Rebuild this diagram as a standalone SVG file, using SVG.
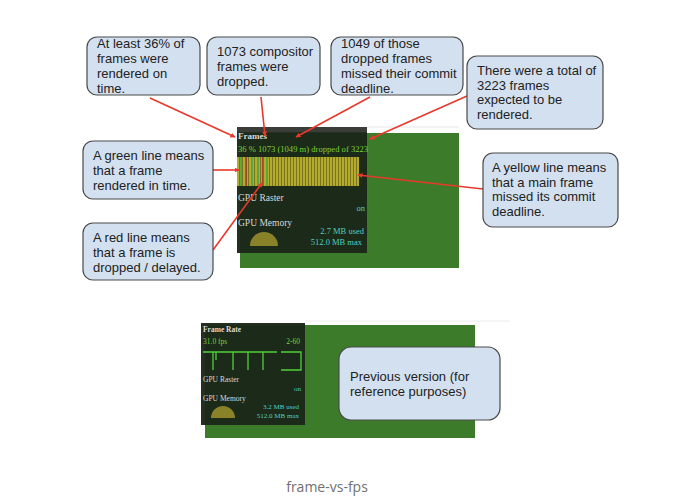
<svg xmlns="http://www.w3.org/2000/svg" width="695" height="502" viewBox="0 0 695 502">
<style>
.box{fill:#d3e0ef;stroke:#4a4a4a;stroke-width:1.2}
.bt{font-family:"Liberation Sans",Arial,sans-serif;font-size:13px;fill:#222}
.pt{font-family:"Liberation Serif","Times New Roman",serif;fill:#d8d8d8}
.gt{font-family:"Liberation Serif","Times New Roman",serif;fill:#7ecf3a}
.ct{font-family:"Liberation Serif","Times New Roman",serif;fill:#4fd1c0}
.arr{stroke:#e8392b;stroke-width:1.6;fill:none;marker-end:url(#ah)}
.gl{stroke:#4fcf3a;stroke-width:1.3;fill:none}
</style>
<defs>
<marker id="ah" viewBox="0 0 10 10" refX="9" refY="5" markerWidth="5" markerHeight="5" orient="auto" markerUnits="userSpaceOnUse" >
<path d="M0,0 L10,5 L0,10 z" fill="#e8392b"/>
</marker>
<pattern id="stripes" x="0" y="0" width="3" height="10" patternUnits="userSpaceOnUse">
<rect width="3" height="10" fill="#b3ab30"/>
<rect x="2" width="1" height="10" fill="#7a741f"/>
</pattern>
</defs>
<rect width="695" height="502" fill="#fff"/>

<g id="panel-new">
<line x1="367" y1="127" x2="459" y2="127" stroke="#e6e6e6"/>
<rect x="240" y="133" width="219" height="135" fill="#3b7b29"/>
<rect x="237" y="127" width="130" height="126" fill="#1b2619" opacity="0.96"/>
<rect x="237" y="127" width="130" height="5" fill="#3a3d38"/>
<text class="pt" x="238" y="139" font-size="9" font-weight="bold">Frames</text>
<text class="gt" x="238" y="152" font-size="8.6">36 %  1073 (1049 m) dropped of 3223</text>
<rect x="237" y="157" width="122" height="29" fill="url(#stripes)"/>
<rect x="240" y="157" width="2" height="29" fill="#5aa83a"/>
<rect x="246" y="157" width="1" height="29" fill="#9a4a2a"/>
<rect x="251" y="157" width="2" height="29" fill="#5aa83a"/>
<rect x="257" y="157" width="2" height="29" fill="#5aa83a"/>
<rect x="262" y="157" width="1" height="29" fill="#a8452a"/>
<rect x="266" y="157" width="2" height="29" fill="#5aa83a"/>
<text class="pt" x="238" y="201" font-size="9.5">GPU Raster</text>
<text class="ct" x="365" y="211" font-size="8.5" text-anchor="end" fill="#56c850">on</text>
<text class="pt" x="238" y="226" font-size="9.5">GPU Memory</text>
<text class="ct" x="364" y="234" font-size="8.5" text-anchor="end">2.7 MB used</text>
<text class="ct" x="362" y="245" font-size="8.5" text-anchor="end">512.0 MB max</text>
<path d="M250,246 A14,14 0 0 1 278,246 Z" fill="#8a8228"/>
</g>

<g id="panel-old">
<line x1="305" y1="321" x2="510" y2="321" stroke="#ececec"/>
<rect x="205" y="325" width="270" height="113" fill="#3b7b29"/>
<rect x="201" y="323" width="104" height="102" fill="#1b2619" opacity="0.96"/>
<text class="pt" x="203" y="332" font-size="7.5" font-weight="bold">Frame Rate</text>
<text class="gt" x="203" y="344" font-size="7.5">31.0 fps</text>
<text class="gt" x="300" y="344" font-size="7.5" text-anchor="end">2-60</text>
<path class="gl" d="M203,352 H277 M213,352 V370 M216,352 V360 M233,352 V370 M248,352 V370 M263,352 V370 M281,352 H301 V370 H281"/>
<text class="pt" x="203" y="382" font-size="7.5">GPU Raster</text>
<text class="ct" x="301" y="391" font-size="7" text-anchor="end" fill="#56c850">on</text>
<text class="pt" x="203" y="401" font-size="7.5">GPU Memory</text>
<text class="ct" x="299" y="409" font-size="7" text-anchor="end">3.2 MB used</text>
<text class="ct" x="299" y="418" font-size="7" text-anchor="end">512.0 MB max</text>
<path d="M211,418 A12,12 0 0 1 235,418 Z" fill="#8a8228"/>
</g>

<g id="connectors">
<line class="arr" x1="150" y1="98" x2="235" y2="137"/>
<line class="arr" x1="261" y1="97" x2="265" y2="136"/>
<line class="arr" x1="370" y1="97" x2="296" y2="137"/>
<line class="arr" x1="467" y1="96" x2="370" y2="139"/>
<line class="arr" x1="213" y1="170" x2="239" y2="170"/>
<line class="arr" x1="213" y1="250" x2="262" y2="183"/>
<line class="arr" x1="483" y1="189" x2="358" y2="175"/>
</g>

<g id="c1"><rect class="box" x="87" y="37" width="113" height="58" rx="10"/>
<text class="bt" x="97" y="48">At least 36% of</text><text class="bt" x="97" y="63">frames were</text><text class="bt" x="97" y="78">rendered on</text><text class="bt" x="97" y="93">time.</text></g>
<g id="c2"><rect class="box" x="207" y="37" width="113" height="58" rx="10"/>
<text class="bt" x="217" y="56">1073 compositor</text><text class="bt" x="217" y="71">frames were</text><text class="bt" x="217" y="86">dropped.</text></g>
<g id="c3"><rect class="box" x="331" y="37" width="132" height="58" rx="10"/>
<text class="bt" x="341" y="48">1049 of those</text><text class="bt" x="341" y="63">dropped frames</text><text class="bt" x="341" y="78">missed their commit</text><text class="bt" x="341" y="93">deadline.</text></g>
<g id="c4"><rect class="box" x="467" y="56" width="136" height="73" rx="10"/>
<text class="bt" x="477" y="75">There were a total of</text><text class="bt" x="477" y="89.5">3223 frames</text><text class="bt" x="477" y="104">expected to be</text><text class="bt" x="477" y="118.5">rendered.</text></g>
<g id="c5"><rect class="box" x="483" y="153" width="135" height="74" rx="10"/>
<text class="bt" x="492" y="172">A yellow line means</text><text class="bt" x="492" y="186.5">that a main frame</text><text class="bt" x="492" y="201">missed its commit</text><text class="bt" x="492" y="215.5">deadline.</text></g>
<g id="c6"><rect class="box" x="83" y="141" width="130" height="58" rx="10"/>
<text class="bt" x="93" y="160">A green line means</text><text class="bt" x="93" y="175">that a frame</text><text class="bt" x="93" y="190">rendered in time.</text></g>
<g id="c7"><rect class="box" x="83" y="223" width="130" height="57" rx="10"/>
<text class="bt" x="93" y="242">A red line means</text><text class="bt" x="93" y="257">that a frame is</text><text class="bt" x="93" y="272">dropped / delayed.</text></g>
<g id="c8"><rect class="box" x="339" y="347" width="161" height="73" rx="12"/>
<text class="bt" x="350" y="381">Previous version (for</text><text class="bt" x="350" y="396">reference purposes)</text></g>

<text x="327" y="492" text-anchor="middle" font-family="'Open Sans','Noto Sans',sans-serif" font-size="14" fill="#707070">frame-vs-fps</text>
</svg>
